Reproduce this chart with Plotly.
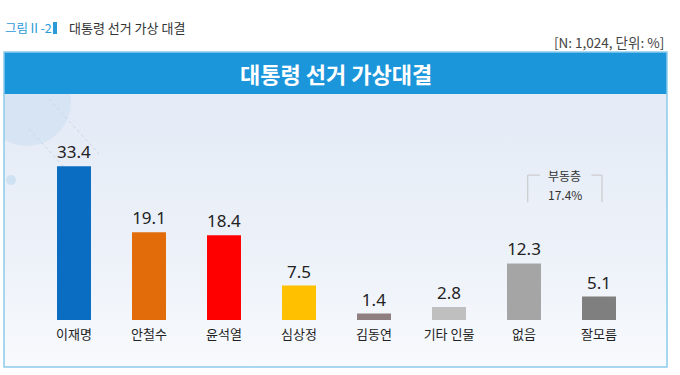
import base64
import plotly.graph_objects as go

categories = ["이재명", "안철수", "윤석열", "심상정", "김동연", "기타 인물", "없음", "잘모름"]
values = [33.4, 19.1, 18.4, 7.5, 1.4, 2.8, 12.3, 5.1]
bar_colors = ["#0B6DC2", "#E36C0A", "#FF0000", "#FFC000", "#8F7F80", "#BFBFBF", "#A5A5A5", "#7F7F7F"]
undecided_cats = ["없음", "잘모름"]
undecided_label = "부동층"
caption_num = "그림Ⅱ-2"
caption_title = "대통령 선거 가상 대결"
note = "[N: 1,024, 단위: %]"
header_title = "대통령 선거 가상대결"

W, H = 680, 375
FONT = "Noto Sans CJK KR"


def px(x):
    return x / W


def py(y):
    return 1 - y / H


undecided_total = sum(v for c, v in zip(categories, values) if c in undecided_cats)

fig = go.Figure()
fig.add_trace(go.Bar(
    x=categories, y=values,
    marker=dict(color=bar_colors, line=dict(width=0)),
    text=[f"{v:.1f}" for v in values],
    textposition="outside",
    textfont=dict(size=17, color="#222222", family="Noto Sans"),
    cliponaxis=False,
    hoverinfo="skip",
))

# background gradient panel as svg image
svg = (
    '<svg xmlns="http://www.w3.org/2000/svg" width="663" height="273" viewBox="0 0 663 273" preserveAspectRatio="none">'
    '<defs><linearGradient id="g" x1="0" y1="0" x2="0" y2="1">'
    '<stop offset="0" stop-color="#E4EAF6"/><stop offset="0.6" stop-color="#EDF2F9"/>'
    '<stop offset="1" stop-color="#F8FAFD"/></linearGradient></defs>'
    '<rect width="663" height="273" fill="url(#g)"/>'
    '<circle cx="23" cy="8" r="44" fill="#D3E2F2" opacity="0.8"/>'
    '<circle cx="7" cy="86" r="5" fill="#CFE2F3"/>'
    '<line x1="45" y1="5" x2="95" y2="60" stroke="#C9D6E6" stroke-width="1" stroke-dasharray="3,3"/>'
    '<line x1="25" y1="35" x2="85" y2="100" stroke="#C9D6E6" stroke-width="1" stroke-dasharray="3,3"/>'
    '</svg>'
)
src = "data:image/svg+xml;base64," + base64.b64encode(svg.encode()).decode()
fig.add_layout_image(dict(
    source=src, xref="paper", yref="paper", x=px(4), y=py(94),
    sizex=px(667) - px(4), sizey=py(94) - py(367),
    sizing="stretch", layer="below", xanchor="left", yanchor="top",
))

shapes = [
    # header band
    dict(type="rect", xref="paper", yref="paper", x0=px(4), x1=px(667), y0=py(94), y1=py(52),
         fillcolor="#1B96DB", line=dict(width=0), layer="below"),
    # panel border
    dict(type="rect", xref="paper", yref="paper", x0=px(4), x1=px(667), y0=py(367), y1=py(52),
         fillcolor="rgba(0,0,0,0)", line=dict(color="#8CCBEB", width=1.5), layer="above"),
    # caption marker bar
    dict(type="rect", xref="paper", yref="paper", x0=px(53), x1=px(57), y0=py(34), y1=py(22),
         fillcolor="#2A9AD8", line=dict(width=0)),
]

# bracket around undecided categories (data coords)
bx0, bx1 = 6.05, 7.04
by_bot, by_top = 25.6, 31.5
br_col = "#C4C4C4"
shapes += [
    dict(type="line", xref="x", yref="y", x0=bx0, x1=bx0, y0=by_bot, y1=by_top, line=dict(color=br_col, width=1)),
    dict(type="line", xref="x", yref="y", x0=bx1, x1=bx1, y0=by_bot, y1=by_top, line=dict(color=br_col, width=1)),
    dict(type="line", xref="x", yref="y", x0=bx0, x1=bx0 + 0.16, y0=by_top, y1=by_top, line=dict(color=br_col, width=1)),
    dict(type="line", xref="x", yref="y", x0=bx1 - 0.14, x1=bx1, y0=by_top, y1=by_top, line=dict(color=br_col, width=1)),
]

annotations = [
    dict(text=header_title, xref="paper", yref="paper", x=px(336), y=py(73), showarrow=False,
         font=dict(family=FONT, size=22, color="white", weight="bold"), xanchor="center", yanchor="middle"),
    dict(text=caption_num, xref="paper", yref="paper", x=px(3), y=py(28), showarrow=False,
         font=dict(family=FONT, size=12.5, color="#2A9AD8"), xanchor="left", yanchor="middle"),
    dict(text=caption_title, xref="paper", yref="paper", x=px(67), y=py(28), showarrow=False,
         font=dict(family=FONT, size=13, color="#333333"), xanchor="left", yanchor="middle"),
    dict(text=note, xref="paper", yref="paper", x=px(666), y=py(42), showarrow=False,
         font=dict(family=FONT, size=13.5, color="#444444"), xanchor="right", yanchor="middle"),
    dict(text=undecided_label, xref="x", yref="y", x=(bx0 + bx1) / 2, y=by_top, showarrow=False,
         font=dict(family=FONT, size=12, color="#333333"), xanchor="center", yanchor="middle"),
    dict(text=f"{undecided_total:.1f}%", xref="x", yref="y", x=(bx0 + bx1) / 2, y=27.2, showarrow=False,
         font=dict(family=FONT, size=12, color="#333333"), xanchor="center", yanchor="middle"),
]

fig.update_layout(
    width=W, height=H,
    margin=dict(l=0, r=0, t=0, b=0),
    paper_bgcolor="white", plot_bgcolor="rgba(0,0,0,0)",
    showlegend=False,
    bargap=0.547,
    shapes=shapes, annotations=annotations,
    font=dict(family=FONT),
    xaxis=dict(domain=[px(36.5), px(636.5)], range=[-0.5, 7.5], showgrid=False, zeroline=False,
               showline=False, ticks="", tickfont=dict(family=FONT, size=13, color="#222222"),
               ticklabelstandoff=5, fixedrange=True),
    yaxis=dict(domain=[py(320), py(136)], range=[0, 40], visible=False, fixedrange=True),
)

fig.write_html("out.html", config={"displayModeBar": False},
               post_script="document.body.style.margin='0';document.body.style.padding='0';")
